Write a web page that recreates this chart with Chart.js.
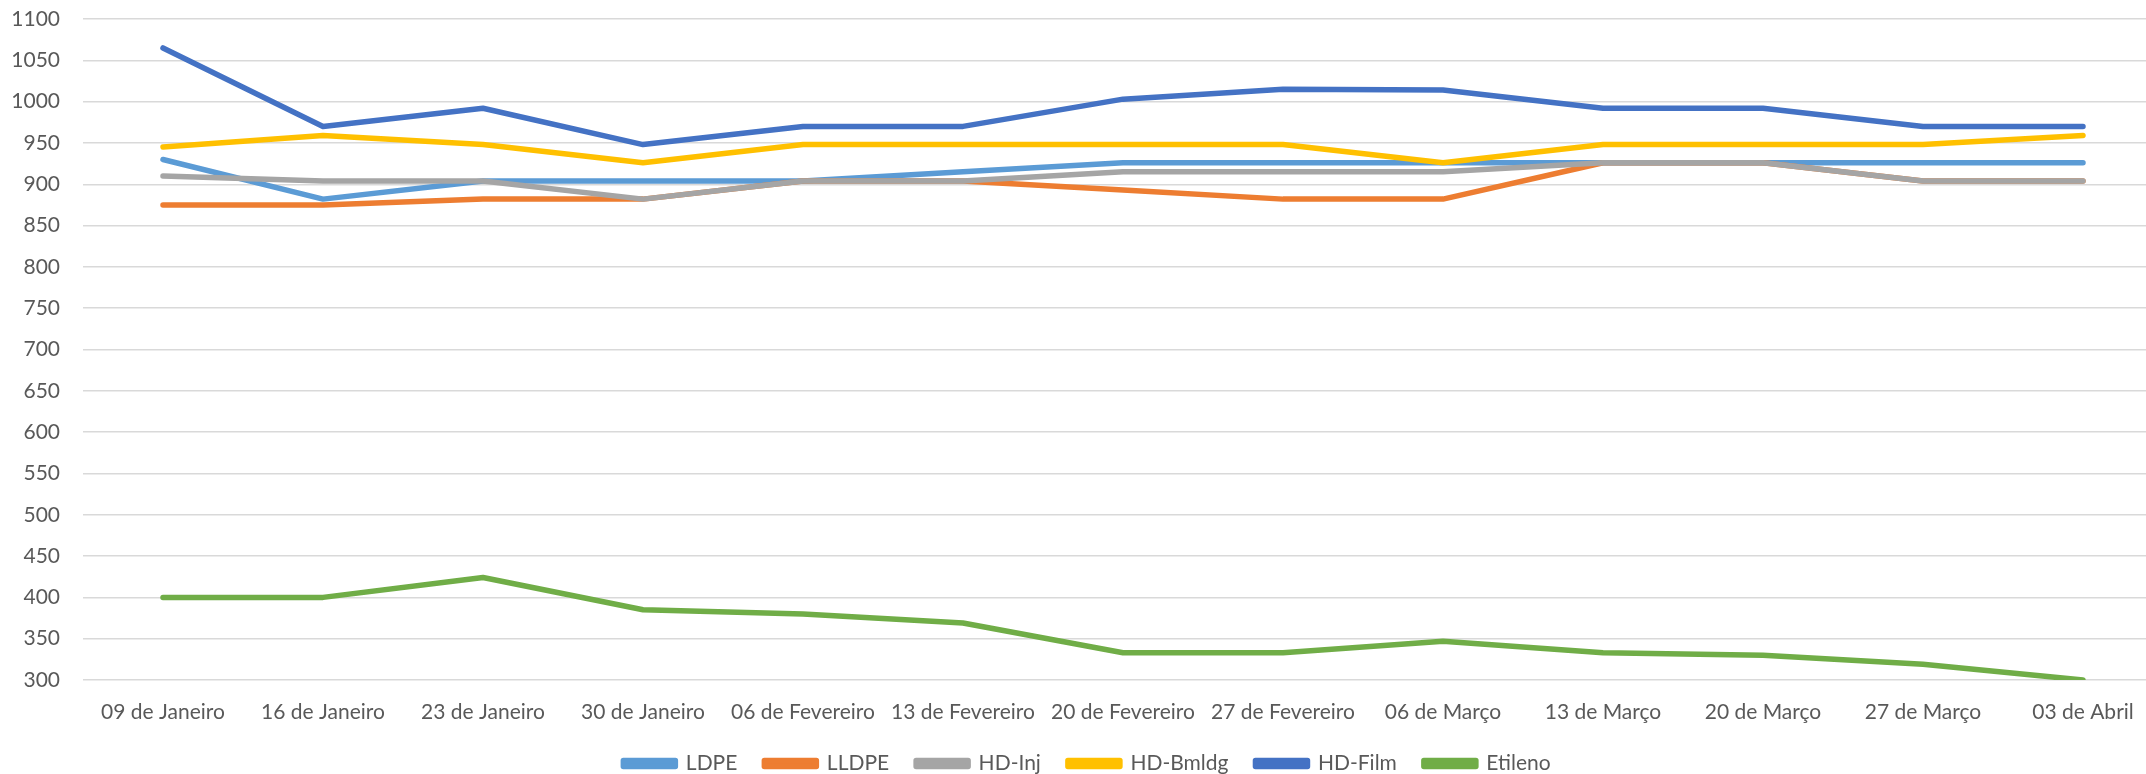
<!DOCTYPE html>
<html>
<head>
<meta charset="utf-8">
<script src="https://cdn.jsdelivr.net/npm/chart.js@4.4.1/dist/chart.umd.min.js"></script>
<style>
    html, body { margin: 0; padding: 0; background: #fff; overflow: hidden; }
    #wrap { width: 2166px; height: 774px; }
</style>
</head>
<body>
<div id="wrap"><canvas id="chart" width="2166" height="774"></canvas></div>
<script>
const weeks = ["09 de Janeiro", "16 de Janeiro", "23 de Janeiro", "30 de Janeiro", "06 de Fevereiro",
    "13 de Fevereiro", "20 de Fevereiro", "27 de Fevereiro", "06 de Março", "13 de Março",
    "20 de Março", "27 de Março", "03 de Abril"];

const ldpe    = [930, 882, 904, 904, 904, 915, 926, 926, 926, 926, 926, 926, 926];
const lldpe   = [875, 875, 882, 882, 904, 904, 893, 882, 882, 926, 926, 904, 904];
const hdInj   = [910, 904, 904, 882, 904, 904, 915, 915, 915, 926, 926, 904, 904];
const hdBmldg = [945, 959, 948, 926, 948, 948, 948, 948, 926, 948, 948, 948, 959];
const hdFilm  = [1065, 970, 992, 948, 970, 970, 1003, 1015, 1014, 992, 992, 970, 970];
const etileno = [400, 400, 424, 385, 380, 369, 333, 333, 347, 333, 330, 319, 300];

const yMin = 300;
const yMax = 1100;
const yStep = 50;

const textColor = "#595959";
const font = { family: "Lato", size: 21 };

// excel draws later series on top, chart.js draws lower order on top
function series(label, data, color, order) {
    return {
        label,
        data,
        borderColor: color,
        backgroundColor: color,
        borderWidth: 5.5,
        borderCapStyle: "round",
        borderJoinStyle: "round",
        pointRadius: 0,
        pointHoverRadius: 0,
        tension: 0,
        fill: false,
        order
    };
}

new Chart(document.getElementById("chart"), {
    type: "line",
    data: {
        labels: weeks,
        datasets: [
            series("LDPE", ldpe, "#5B9BD5", 6),
            series("LLDPE", lldpe, "#ED7D31", 5),
            series("HD-Inj", hdInj, "#A5A5A5", 4),
            series("HD-Bmldg", hdBmldg, "#FFC000", 3),
            series("HD-Film", hdFilm, "#4472C4", 2),
            series("Etileno", etileno, "#70AD47", 1)
        ]
    },
    options: {
        responsive: false,
        animation: false,
        devicePixelRatio: 1,
        layout: { padding: { left: 11, right: 3, top: 19, bottom: -10 } },
        scales: {
            x: {
                offset: true,
                grid: { display: false, drawTicks: false },
                border: { display: false },
                ticks: { color: textColor, font, padding: 20, maxRotation: 0, minRotation: 0, autoSkip: false },
                afterFit: (scale) => { scale.height = 46; }
            },
            y: {
                min: yMin,
                max: yMax,
                grid: { color: "#d9d9d9", lineWidth: 1.5, drawTicks: false },
                border: { display: false },
                ticks: { color: textColor, font, padding: 23, stepSize: yStep, callback: (v) => String(v) },
                afterFit: (scale) => {
                    scale.width = 72;
                    scale.paddingTop = 0;
                    scale.paddingBottom = 0;
                }
            }
        },
        plugins: {
            legend: {
                position: "bottom",
                labels: {
                    color: textColor,
                    font,
                    boxWidth: 52,
                    boxHeight: 6,
                    padding: 27,
                    sort: (a, b) => a.datasetIndex - b.datasetIndex
                }
            },
            tooltip: { enabled: false }
        }
    }
});
</script>
</body>
</html>
